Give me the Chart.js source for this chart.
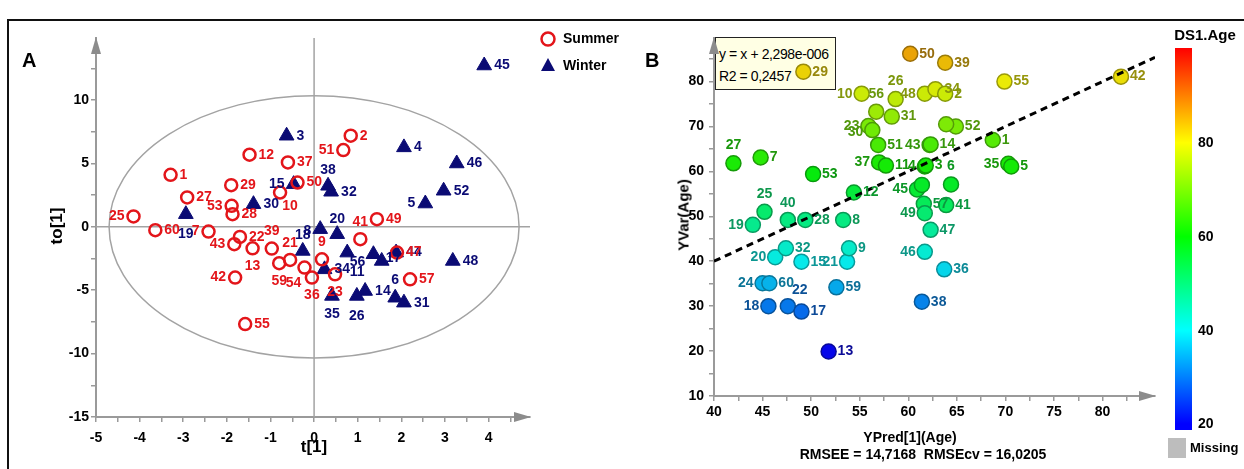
<!DOCTYPE html>
<html><head><meta charset="utf-8">
<script src="https://cdn.jsdelivr.net/npm/chart.js@4"></script>
<style>
body{margin:0;width:1244px;height:469px;overflow:hidden;background:#fff;position:relative;font-family:'Liberation Sans',Arial,sans-serif}
canvas{position:absolute;top:0;z-index:2}
#cA{left:0}
#cB{left:640px}
.t{position:absolute;font-weight:bold;white-space:nowrap;color:#000;z-index:3}
.c{transform:translate(-50%,-50%)}
.rot{transform:translate(-50%,-50%) rotate(-90deg)}
#frame{position:absolute;left:7px;top:19px;width:1300px;height:500px;border-left:2px solid #111;border-top:2px solid #111;z-index:1}
#eq{position:absolute;left:715px;top:37px;width:116px;height:46px;background:#ffffe4;border:1.5px solid #222;z-index:1;font-size:14px;letter-spacing:-0.4px;line-height:22px;padding:5px 0 0 3px;white-space:nowrap;box-sizing:content-box}
#cbar{position:absolute;left:1175px;top:48px;width:17px;height:382px;z-index:3;
background:linear-gradient(to bottom,#ff0000 0%,#ff8000 12.4%,#ffff00 24.8%,#80ff00 37.1%,#00ff00 49.4%,#00ff80 61.7%,#00ffff 74%,#0080ff 86.2%,#0000ff 98.4%,#0000ff 100%)}
#miss{position:absolute;left:1168px;top:438px;width:18px;height:20px;background:#bdbdbd;z-index:3}
</style></head><body>
<div id="frame"></div>
<div id="eq">y = x + 2,298e-006<br>R2 = 0,2457</div>
<canvas id="cA" width="640" height="469"></canvas>
<canvas id="cB" width="604" height="469"></canvas>
<div class="t" style="left:22px;top:49px;font-size:20px">A</div>
<div class="t" style="left:645px;top:49px;font-size:20px">B</div>
<div class="t rot" style="left:57px;top:226px;font-size:17px">to[1]</div>
<div class="t c" style="left:314px;top:447px;font-size:17px">t[1]</div>
<div class="t" style="left:563px;top:30px;font-size:14px">Summer</div>
<div class="t" style="left:563px;top:57px;font-size:14px">Winter</div>
<div class="t rot" style="left:683px;top:215px;font-size:15px">YVar(Age)</div>
<div class="t c" style="left:910px;top:437px;font-size:14px">YPred[1](Age)</div>
<div class="t c" style="left:923px;top:454px;font-size:14px">RMSEE = 14,7168&nbsp;&nbsp;RMSEcv = 16,0205</div>
<div class="t c" style="left:1205px;top:34px;font-size:15px">DS1.Age</div>
<div id="cbar"></div>
<div class="t" style="left:1198px;top:134px;font-size:14px">80</div>
<div class="t" style="left:1198px;top:228px;font-size:14px">60</div>
<div class="t" style="left:1198px;top:322px;font-size:14px">40</div>
<div class="t" style="left:1198px;top:415px;font-size:14px">20</div>
<div id="miss"></div>
<div class="t" style="left:1190px;top:440px;font-size:13px">Missing</div>
<script>
// ---------------- Panel A data (OPLS-DA score plot) ----------------
const summerIds = ['1','2','7','9','10','12','13','21','22','23','25','27','28','29','36','37','39','41','42','43','47','49','50','51','53','54','55','57','59','60'];
const summerT   = [-3.29,0.84,-2.42,0.18,-0.78,-1.48,-1.41,-0.55,-1.70,0.48,-4.14,-2.91,-1.87,-1.90,-0.05,-0.60,-0.97,1.06,-1.81,-1.83,1.90,1.44,-0.38,0.67,-1.89,-0.22,-1.58,2.20,-0.80,-3.64];
const summerTo  = [4.11,7.19,-0.37,-2.56,2.71,5.69,-1.69,-2.61,-0.79,-3.74,0.82,2.32,1.00,3.29,-4.00,5.08,-1.71,-0.97,-4.00,-1.37,-2.03,0.61,3.50,6.06,1.66,-3.21,-7.67,-4.14,-2.87,-0.26];
const winterIds = ['3','4','5','6','8','18','11','14','15','17','19','20','26','30','31','32','34','35','38','44','45','46','48','52','56'];
const winterT   = [-0.63,2.06,2.55,1.86,0.14,-0.26,0.76,1.17,-0.47,1.55,-2.94,0.53,0.98,-1.39,2.06,0.39,0.24,0.41,0.32,1.88,3.90,3.27,3.18,2.97,1.36];
const winterTo  = [7.19,6.27,1.84,-5.59,-0.18,-1.90,-2.03,-5.06,3.37,-2.69,1.00,-0.58,-5.45,1.79,-5.98,2.77,-3.35,-5.45,3.24,-2.03,12.73,5.00,-2.69,2.85,-2.16];
const xTickLabelsA = [-5,-4,-3,-2,-1,0,1,2,3,4];
const yTickLabelsA = [-15,-10,-5,0,5,10];
const ellipseT = 4.7, ellipseTo = 10.35;   // Hotelling T2 ellipse semi-axes

// ---------------- Panel B data (observed vs predicted age) ----------------
const idsB  = ['29','50','39','10','56','26','31','48','34','2','23','30','51','37','11','43','14','4','3','6','45','','12','52','','1','35','5','55','42','27','7','53','25','40','19','28','8','41','57','49','47','46','36','20','32','15','21','9','24','60','59','18','22','17','38','13'];
const predB = [49.2,60.2,63.8,55.2,56.7,58.7,58.3,61.7,62.8,63.8,55.9,56.3,56.9,57.0,57.7,62.2,62.3,61.7,61.8,64.4,60.9,61.4,54.4,64.9,63.9,68.7,70.3,70.6,69.9,81.9,42.0,44.8,50.2,45.2,47.6,44.0,49.4,53.3,63.9,61.6,61.7,62.3,61.7,63.7,46.3,47.4,49.0,53.7,53.9,45.0,45.7,52.6,45.6,47.6,49.0,61.4,51.8];
const obsB  = [82.2,86.2,84.2,77.3,73.3,76.1,72.2,77.3,78.3,77.3,70.1,69.2,65.9,62.0,61.3,65.9,66.0,61.1,61.3,57.1,56.0,57.0,55.3,70.0,70.5,67.0,61.7,61.1,80.0,81.1,61.8,63.1,59.4,51.0,49.2,48.1,49.2,49.2,52.5,52.8,50.7,47.0,42.1,38.2,40.9,42.9,39.9,39.9,42.9,35.1,35.1,34.2,30.0,30.0,28.8,31.0,19.9];
const fitX  = [40, 85.4];
const fitY  = [40, 85.4];   // y = x + 2.298e-006
const xTickLabelsB = [40,45,50,55,60,65,70,75,80];
const yTickLabelsB = [10,20,30,40,50,60,70,80];

// ---------------- styles ----------------
const NARROW = "'Liberation Sans Narrow','Arial Narrow','Liberation Sans',Arial,sans-serif";
const RED = '#e3151a', NAVY = '#0b0b74', AXIS = '#9a9a9a';
// label placement (style): [dx, dy, align]
const R = [9,0,'left'], L = [-9,0,'right'], AB = [0,-17,'center'], BE = [0,18,'center'];
const posSummer = {'7':L,'9':AB,'10':[10,14,'center'],'13':BE,'21':AB,'23':BE,'25':L,'36':BE,'39':AB,'41':AB,'42':L,'43':L,'51':L,'53':L,'54':[-11,16,'center'],'59':BE};
const posWinter = {'5':[-10,0,'right'],'6':[0,-18,'center'],'8':[-9,2,'right'],'18':[0,-16,'center'],'11':[10,20,'center'],'15':[-9,0,'right'],'19':[0,20,'center'],'20':[0,-15,'center'],'26':[0,20,'center'],'35':[0,18,'center'],'38':[0,-16,'center'],'56':[-8,8,'right'],'17':[4,-3,'left']};
const posB = {'10':L,'56':[0,-18,'center'],'26':[0,-18,'center'],'48':L,'23':L,'30':[-9,2,'right'],'37':L,'43':L,'4':L,'6':[0,-18,'center'],'45':L,'35':L,'27':[0,-18,'center'],'25':[0,-18,'center'],'40':[0,-17,'center'],'19':L,'49':L,'46':L,'20':L,'21':L,'24':L,'18':L,'22':[12,-16,'center']};

function hueFor(v){ return Math.max(0, Math.min(240, 240 - (v - 20) * 3)); }

function minorTicks(min, max, step){ const a=[]; for(let v=min; v<=max+1e-9; v+=step) a.push({value: Math.round(v*1000)/1000}); return a; }
function labelIf(list){ return v => list.some(l => Math.abs(l - v) < 1e-6) ? String(v) : ''; }

function drawLabels(chart, dsIndex, ids, posMap, colorFn, defSpec){
  const meta = chart.getDatasetMeta(dsIndex), ctx = chart.ctx;
  ctx.save();
  ctx.font = 'bold 14px ' + NARROW;
  ctx.textBaseline = 'middle';
  meta.data.forEach((pt, i) => {
    const id = ids[i]; if (!id) return;
    const [dx, dy, al] = posMap[id] || defSpec;
    ctx.textAlign = al; ctx.fillStyle = colorFn(i);
    ctx.fillText(id, pt.x + dx, pt.y + dy);
  });
  ctx.restore();
}
function arrows(chart){
  const {ctx, chartArea:a} = chart;
  ctx.save(); ctx.fillStyle = '#8c8c8c';
  ctx.beginPath(); ctx.moveTo(a.left, a.top - 1); ctx.lineTo(a.left - 5, a.top + 16); ctx.lineTo(a.left + 5, a.top + 16); ctx.closePath(); ctx.fill();
  ctx.beginPath(); ctx.moveTo(a.right + 1, a.bottom); ctx.lineTo(a.right - 16, a.bottom - 5); ctx.lineTo(a.right - 16, a.bottom + 5); ctx.closePath(); ctx.fill();
  ctx.restore();
}
function axisOpts(min, max, ticks, labels, fitProp, fitVal, pad){
  return {
    type:'linear', min, max,
    afterBuildTicks: s => { s.ticks = ticks; },
    afterFit: s => { s[fitProp] = fitVal; },
    ticks:{autoSkip:false, maxRotation:0, padding:pad, color:'#000', font:{family:NARROW, size:14, weight:'bold'}, callback: labelIf(labels)},
    grid:{display:true, drawOnChartArea:false, drawTicks:true, tickLength:5, color:AXIS, lineWidth:1.5},
    border:{display:true, color:AXIS, width:2}
  };
}

// ---------------- Chart A ----------------
const pluginA = {
  id:'pa',
  beforeDatasetsDraw(chart){
    const {ctx, scales:{x, y}} = chart;
    const cx = x.getPixelForValue(0), cy = y.getPixelForValue(0);
    ctx.save();
    ctx.strokeStyle = '#a3a3a3'; ctx.lineWidth = 1.5;
    ctx.beginPath(); ctx.moveTo(cx, y.top); ctx.lineTo(cx, y.bottom); ctx.stroke();
    ctx.beginPath(); ctx.moveTo(x.left, cy); ctx.lineTo(x.right, cy); ctx.stroke();
    const rx = x.getPixelForValue(ellipseT) - cx, ry = cy - y.getPixelForValue(ellipseTo);
    ctx.beginPath(); ctx.ellipse(cx, cy, rx, ry, 0, 0, Math.PI * 2); ctx.stroke();
    ctx.restore();
    arrows(chart);
  },
  afterDatasetsDraw(chart){
    drawLabels(chart, 1, winterIds, posWinter, () => NAVY, [10,0,'left']);
    drawLabels(chart, 0, summerIds, posSummer, () => RED, R);
    const ctx = chart.ctx;
    ctx.save();
    ctx.strokeStyle = RED; ctx.lineWidth = 2.5;
    ctx.beginPath(); ctx.arc(548, 39, 6.5, 0, Math.PI * 2); ctx.stroke();
    ctx.fillStyle = NAVY;
    ctx.beginPath(); ctx.moveTo(548, 58); ctx.lineTo(555, 71); ctx.lineTo(541, 71); ctx.closePath(); ctx.fill();
    ctx.restore();
  }
};
new Chart(document.getElementById('cA'), {
  type:'scatter',
  data:{datasets:[
    {label:'Summer', data: summerT.map((t, i) => ({x:t, y:summerTo[i]})), pointStyle:'circle', pointRadius:6, borderWidth:2.5, borderColor:RED, backgroundColor:'rgba(0,0,0,0)'},
    {label:'Winter', data: winterT.map((t, i) => ({x:t, y:winterTo[i]})), pointStyle:'triangle', pointRadius:8.5, borderWidth:1, borderColor:NAVY, backgroundColor:NAVY}
  ]},
  options:{
    responsive:false, animation:false, events:[], devicePixelRatio:1,
    layout:{padding:{left:0, top:38, right:110, bottom:0}},
    plugins:{legend:{display:false}, tooltip:{enabled:false}},
    scales:{
      x: axisOpts(-5, 4.95, minorTicks(-5, 4.5, 0.5), xTickLabelsA, 'height', 52, 8),
      y: axisOpts(-15, 14.9, minorTicks(-15, 12.5, 2.5), yTickLabelsA, 'width', 96, 2)
    }
  },
  plugins:[pluginA]
});

// ---------------- Chart B ----------------
const pluginB = {
  id:'pb',
  beforeDatasetsDraw(chart){ arrows(chart); },
  afterDatasetsDraw(chart){
    drawLabels(chart, 1, idsB, posB, i => `hsl(${hueFor(obsB[i])},85%,32%)`, R);
  }
};
new Chart(document.getElementById('cB'), {
  type:'scatter',
  data:{datasets:[
    {type:'line', data: fitX.map((x, i) => ({x, y:fitY[i]})), borderColor:'#000', borderWidth:3, borderDash:[7,5], pointRadius:0, fill:false},
    {data: predB.map((x, i) => ({x, y:obsB[i]})), pointRadius:7.5, borderWidth:1.5,
     backgroundColor: c => `hsl(${hueFor(obsB[c.dataIndex])},95%,47%)`,
     borderColor: c => `hsl(${hueFor(obsB[c.dataIndex])},90%,32%)`}
  ]},
  options:{
    responsive:false, animation:false, events:[], devicePixelRatio:1,
    layout:{padding:{left:0, top:38, right:89, bottom:0}},
    plugins:{legend:{display:false}, tooltip:{enabled:false}},
    scales:{
      x: axisOpts(40, 85.4, minorTicks(40, 82.5, 2.5), xTickLabelsB, 'height', 73, 3),
      y: axisOpts(10, 89.7, minorTicks(10, 85, 5), yTickLabelsB, 'width', 74, 5)
    }
  },
  plugins:[pluginB]
});
</script>
</body></html>
